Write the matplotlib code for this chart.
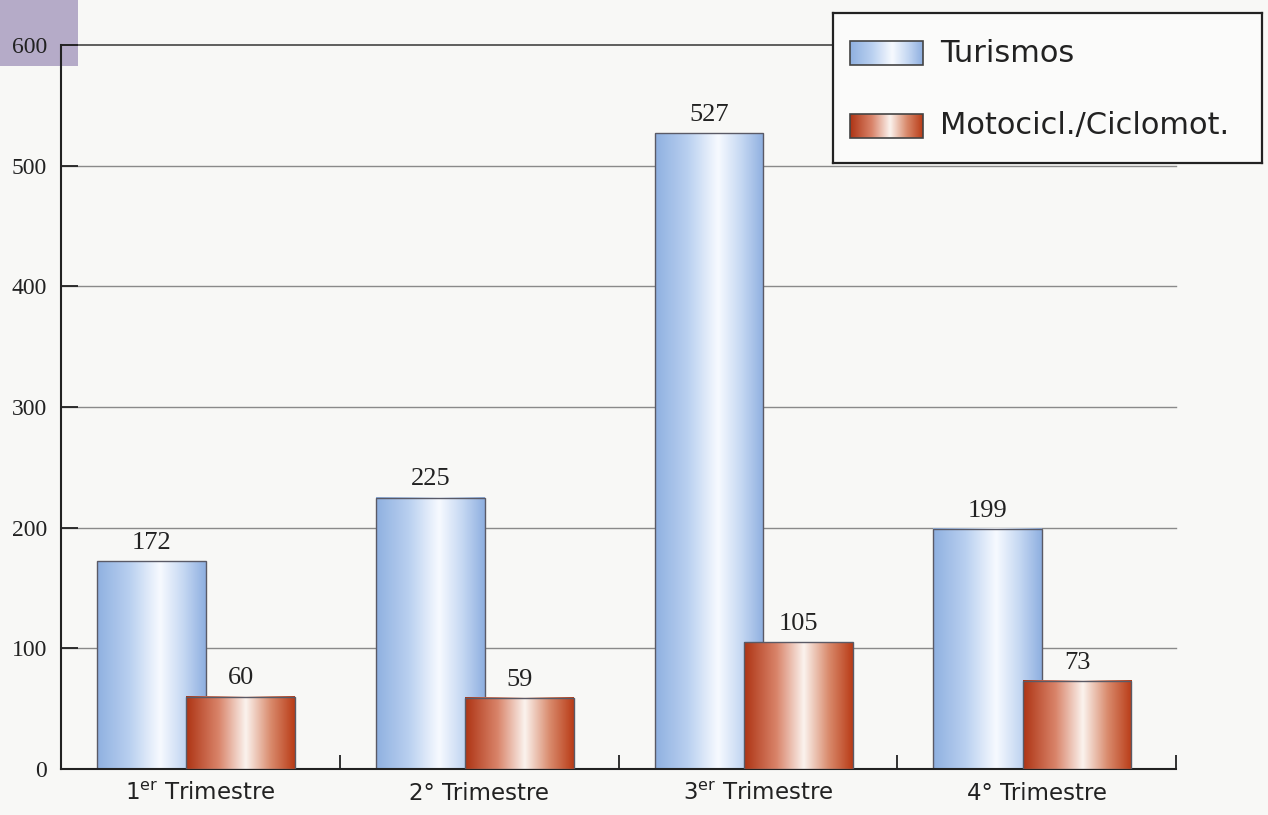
import numpy as np
import matplotlib
matplotlib.use('Agg')
import matplotlib.pyplot as plt
from matplotlib.colors import LinearSegmentedColormap
from matplotlib.patches import Rectangle
from matplotlib.transforms import ScaledTranslation

# Datos
trimestres = ['1$^{er}$ Trimestre', '2° Trimestre', '3$^{er}$ Trimestre', '4° Trimestre']
turismos = [172, 225, 527, 199]
motos = [60, 59, 105, 73]
series_names = ['Turismos', 'Motocicl./Ciclomot.']
yticks = [0, 100, 200, 300, 400, 500, 600]

plt.rcParams['mathtext.default'] = 'regular'

# Degradados tipo "cilindro"
cmap_azul = LinearSegmentedColormap.from_list('azul', [
    (0.0, '#8fb0e0'), (0.30, '#b9d0f0'), (0.58, '#f7faff'), (0.80, '#c4d7f2'), (1.0, '#8eafe0')])
cmap_rojo = LinearSegmentedColormap.from_list('rojo', [
    (0.0, '#ae3414'), (0.30, '#d9846a'), (0.55, '#fbf3ee'), (0.78, '#d98a6c'), (1.0, '#b93c17')])
grad = np.linspace(0, 1, 256).reshape(1, -1)

fig = plt.figure(figsize=(12.68, 8.15), dpi=100)
fig.patch.set_facecolor('#f8f8f6')

# recuadro morado de la esquina
fig.patches.append(Rectangle((0, 1 - 66 / 815), 78 / 1268, 66 / 815, transform=fig.transFigure,
                             facecolor='#b5abc8', edgecolor='none', zorder=-5))

ax = fig.add_axes([61 / 1268, 46 / 815, 1115 / 1268, 724 / 815])
ax.set_facecolor('none')
ax.set_zorder(2)

x = np.arange(len(trimestres)) + 0.5
b1 = ax.bar(x - 0.175, turismos, width=0.39, facecolor='none', edgecolor='none')
b2 = ax.bar(x + 0.145, motos, width=0.39, facecolor='none', edgecolor='none')

for bars, cmap, z in [(b1, cmap_azul, 2), (b2, cmap_rojo, 3)]:
    for r in bars:
        x0, w, h = r.get_x(), r.get_width(), r.get_height()
        ax.imshow(grad, cmap=cmap, extent=[x0, x0 + w, 0, h], aspect='auto',
                  interpolation='bicubic', zorder=z)
        ax.add_patch(Rectangle((x0, 0), w, h, facecolor='none', edgecolor='#5a5a66',
                               linewidth=1.0, zorder=z + 0.1))
        ax.text(x0 + w / 2, h + 6, f'{h:.0f}', ha='center', va='bottom',
                fontsize=19, family='Liberation Serif', color='#222222', zorder=5)

ax.set_xlim(0, 4)
ax.set_ylim(0, 600)

# rejilla
for v in yticks[1:]:
    ax.axhline(v, color='#444444' if v == 600 else '#8a8a8a',
               linewidth=1.2 if v == 600 else 1.0, zorder=1, clip_on=False)

ax.set_yticks(yticks)
ax.set_yticklabels([str(v) for v in yticks], fontsize=17, family='Liberation Serif', color='#222222')
for lab in ax.get_yticklabels():
    lab.set_transform(lab.get_transform() + ScaledTranslation(0, 5 / 100, fig.dpi_scale_trans))
ax.tick_params(axis='y', direction='in', length=12, width=1.3, pad=10, color='#222222')

ax.set_xticks(x)
ax.set_xticklabels(trimestres, fontsize=16.5, color='#222222')
ax.tick_params(axis='x', length=0, pad=9)
ax.set_xticks([1, 2, 3, 4], minor=True)
ax.tick_params(axis='x', which='minor', direction='in', length=10, width=1.3, color='#222222')

for s in ['top', 'right']:
    ax.spines[s].set_visible(False)
for s in ['left', 'bottom']:
    ax.spines[s].set_linewidth(1.5)
    ax.spines[s].set_color('#222222')

# leyenda
lg = fig.add_axes([833 / 1268, 652 / 815, 429 / 1268, 150 / 815])
lg.set_zorder(3)
lg.set_xlim(0, 1)
lg.set_ylim(0, 1)
lg.set_xticks([])
lg.set_yticks([])
lg.set_facecolor('#fbfbfa')
for s in lg.spines.values():
    s.set_linewidth(1.6)
    s.set_color('#222222')
for (name, cmap, y0) in [(series_names[0], cmap_azul, 0.653), (series_names[1], cmap_rojo, 0.167)]:
    lg.imshow(grad, cmap=cmap, extent=[0.04, 0.21, y0, y0 + 0.16], aspect='auto', interpolation='bicubic')
    lg.add_patch(Rectangle((0.04, y0), 0.17, 0.16, facecolor='none', edgecolor='#444444', linewidth=1.2))
    lg.text(0.25, y0 + 0.08, name, fontsize=22, va='center', ha='left', color='#222222')

fig.savefig('out.png', dpi=100, facecolor=fig.get_facecolor())
